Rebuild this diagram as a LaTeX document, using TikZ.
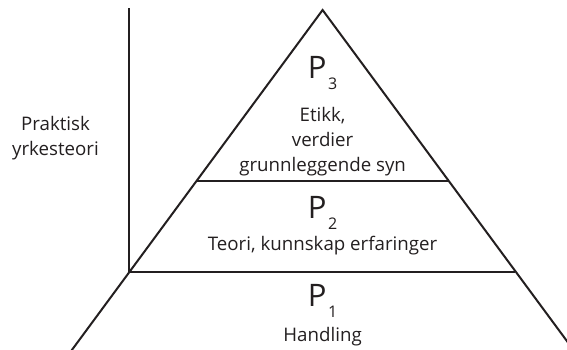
\documentclass[tikz,border=0pt]{standalone}
\usepackage{fontspec}
\setmainfont{Open Sans}
\usepackage{tikz}
\tikzset{>=latex}
\definecolor{ink}{HTML}{231F20}
\newcommand{\Pniv}[1]{{\fontsize{31}{31}\selectfont P}\hspace{1.5pt}\raisebox{-11pt}{\fontsize{16}{16}\selectfont #1}}

\begin{document}
\begin{tikzpicture}[x=1pt,y=-1pt,line width=2pt,color=ink,
    tekst/.style={anchor=base,inner sep=0pt,align=center,font=\fontsize{18.7}{25}\selectfont}]
    \useasboundingbox (0,0) rectangle (567,349);
    \clip (0,0) rectangle (567,349);
    \coordinate (A) at (322.6,10);
    \coordinate (B) at (129,272);
    \coordinate (C) at (515.4,272);
    \coordinate (D) at (196.7,181);
    \coordinate (E) at (448.5,181);
    \coordinate (F) at (70.4,352);
    \coordinate (G) at (575,352);
    \coordinate (H) at (129,8);
    \draw[line join=miter] (F) -- (A) -- (G);
    \draw (D) -- (E);
    \draw (B) -- (C);
    \draw (H) -- (B);
    \node[tekst] (K) at (55.5,155) {Praktisk\\yrkesteori};
    \node[tekst] (L) at (322.6,78) {\Pniv{3}};
    \node[tekst] (M) at (322.6,171.7) {Etikk,\\verdier\\grunnleggende syn};
    \node[tekst] (N) at (322.6,218.3) {\Pniv{2}};
    \node[tekst] (O) at (322.6,250) {Teori, kunnskap erfaringer};
    \node[tekst] (P) at (322.6,306.7) {\Pniv{1}};
    \node[tekst] (Q) at (322.6,341) {Handling};
  \end{tikzpicture}
\end{document}
